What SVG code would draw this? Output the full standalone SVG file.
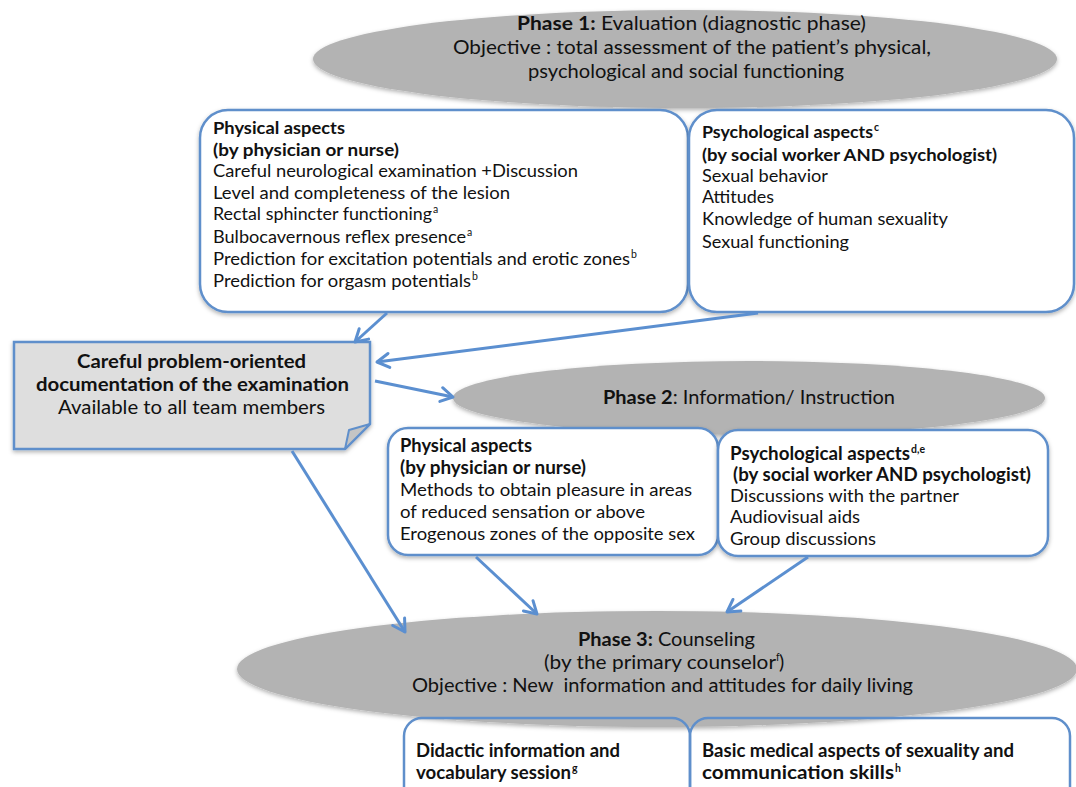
<svg xmlns="http://www.w3.org/2000/svg" width="1076" height="787" viewBox="0 0 1076 787">
  <style>
    .bg { fill: #ffffff; }
    .phase { fill: #b3b3b3; filter: url(#shadow); }
    .card { fill: #ffffff; stroke: #5f8fcb; stroke-width: 2.5; filter: url(#shadow); }
    .card-open { fill: none; stroke: #5f8fcb; stroke-width: 2.5; }
    .note { fill: #dedede; stroke: #5f8fcb; stroke-width: 2.5; filter: url(#shadow); }
    .fold { fill: #c4c4c4; stroke: #5f8fcb; stroke-width: 2; stroke-linejoin: round; }
    .link { fill: none; stroke: #5b8fd0; stroke-width: 3; marker-end: url(#vhead); }
    text { font-family: Lato, "Liberation Sans", sans-serif; fill: #111111; }
    .t16 { font-size: 17px; }
    .t18 { font-size: 18.5px; }
    .t17 { font-size: 18px; }
    .t19 { font-size: 19.5px; }
    .b { font-weight: bold; }
    .sup { font-size: 10.5px; }
  </style>
  <defs>
    <filter id="shadow" x="-10%" y="-20%" width="120%" height="150%">
      <feDropShadow dx="0" dy="2" stdDeviation="2" flood-color="#000000" flood-opacity="0.3"/>
    </filter>
    <marker id="vhead" markerUnits="userSpaceOnUse" markerWidth="18" markerHeight="18" viewBox="0 0 18 18" refX="15" refY="9" orient="auto">
      <path d="M3,2 L15,9 L3,16" fill="none" stroke="#5b8fd0" stroke-width="3" stroke-linecap="round" stroke-linejoin="round"/>
    </marker>
  </defs>

  <rect class="bg" x="0" y="0" width="1076" height="787"/>

  <!-- Phase 1 -->
  <g id="phase1">
    <ellipse class="phase" cx="685" cy="59" rx="372" ry="49"/>
    <text class="t18" x="517" y="30" textLength="349" lengthAdjust="spacingAndGlyphs"><tspan class="b">Phase 1:</tspan> Evaluation (diagnostic phase)</text>
    <text class="t18" x="453" y="54" textLength="478" lengthAdjust="spacingAndGlyphs">Objective : total assessment of the patient’s physical,</text>
    <text class="t18" x="528" y="78" textLength="316" lengthAdjust="spacingAndGlyphs">psychological and social functioning</text>
  </g>

  <g id="p1-physical">
    <rect class="card" x="200" y="110" width="488" height="202" rx="28"/>
    <text class="t16 b" x="213" y="134" textLength="132" lengthAdjust="spacingAndGlyphs">Physical aspects</text>
    <text class="t16 b" x="213" y="156" textLength="186" lengthAdjust="spacingAndGlyphs">(by physician or nurse)</text>
    <text class="t16" x="213" y="177" textLength="365" lengthAdjust="spacingAndGlyphs">Careful neurological examination +Discussion</text>
    <text class="t16" x="213" y="199" textLength="297" lengthAdjust="spacingAndGlyphs">Level and completeness of the lesion</text>
    <text class="t16" x="213" y="220" textLength="219" lengthAdjust="spacingAndGlyphs">Rectal sphincter functioning</text>
    <text class="sup" x="433" y="213">a</text>
    <text class="t16" x="213" y="243" textLength="253" lengthAdjust="spacingAndGlyphs">Bulbocavernous reflex presence</text>
    <text class="sup" x="467" y="236">a</text>
    <text class="t16" x="213" y="265" textLength="417" lengthAdjust="spacingAndGlyphs">Prediction for excitation potentials and erotic zones</text>
    <text class="sup" x="631" y="258">b</text>
    <text class="t16" x="213" y="287" textLength="258" lengthAdjust="spacingAndGlyphs">Prediction for orgasm potentials</text>
    <text class="sup" x="472" y="280">b</text>
  </g>

  <g id="p1-psychological">
    <rect class="card" x="689" y="110" width="385" height="202" rx="28"/>
    <text class="t16 b" x="702" y="138" textLength="171" lengthAdjust="spacingAndGlyphs">Psychological aspects</text>
    <text class="sup b" x="874" y="131">c</text>
    <text class="t16 b" x="702" y="161" textLength="295" lengthAdjust="spacingAndGlyphs">(by social worker AND psychologist)</text>
    <text class="t16" x="702" y="182" textLength="126" lengthAdjust="spacingAndGlyphs">Sexual behavior</text>
    <text class="t16" x="702" y="203" textLength="72" lengthAdjust="spacingAndGlyphs">Attitudes</text>
    <text class="t16" x="702" y="225" textLength="246" lengthAdjust="spacingAndGlyphs">Knowledge of human sexuality</text>
    <text class="t16" x="702" y="248" textLength="147" lengthAdjust="spacingAndGlyphs">Sexual functioning</text>
  </g>

  <!-- Documentation note with folded corner -->
  <g id="documentation">
    <path class="note" d="M14,342 H370 V424 L345,449 H14 Z"/>
    <path class="fold" d="M370,424 L349,430 L345,449 Z"/>
    <text class="t18 b" x="77" y="368" textLength="229" lengthAdjust="spacingAndGlyphs">Careful problem-oriented</text>
    <text class="t18 b" x="36" y="391" textLength="313" lengthAdjust="spacingAndGlyphs">documentation of the examination</text>
    <text class="t18" x="58" y="414" textLength="267" lengthAdjust="spacingAndGlyphs">Available to all team members</text>
  </g>

  <!-- Phase 2 -->
  <g id="phase2">
    <ellipse class="phase" cx="749" cy="398" rx="296" ry="37"/>
    <text class="t19" x="603" y="404" textLength="292" lengthAdjust="spacingAndGlyphs"><tspan class="b">Phase 2</tspan>: Information/ Instruction</text>
  </g>

  <g id="p2-physical">
    <rect class="card" x="388" y="428" width="330" height="127" rx="20"/>
    <text class="t17 b" x="400" y="452" textLength="132" lengthAdjust="spacingAndGlyphs">Physical aspects</text>
    <text class="t17 b" x="400" y="474" textLength="186" lengthAdjust="spacingAndGlyphs">(by physician or nurse)</text>
    <text class="t17" x="400" y="496" textLength="292" lengthAdjust="spacingAndGlyphs">Methods to obtain pleasure in areas</text>
    <text class="t17" x="400" y="518" textLength="245" lengthAdjust="spacingAndGlyphs">of reduced sensation or above</text>
    <text class="t17" x="400" y="540" textLength="295" lengthAdjust="spacingAndGlyphs">Erogenous zones of the opposite sex</text>
  </g>

  <g id="p2-psychological">
    <rect class="card" x="718" y="430" width="330" height="126" rx="20"/>
    <text class="t17 b" x="730" y="460" textLength="180" lengthAdjust="spacingAndGlyphs">Psychological aspects</text>
    <text class="sup b" x="911" y="453">d,e</text>
    <text class="t17 b" x="733" y="481" textLength="298" lengthAdjust="spacingAndGlyphs">(by social worker AND psychologist)</text>
    <text class="t17" x="730" y="502" textLength="229" lengthAdjust="spacingAndGlyphs">Discussions with the partner</text>
    <text class="t17" x="730" y="523" textLength="130" lengthAdjust="spacingAndGlyphs">Audiovisual aids</text>
    <text class="t17" x="730" y="545" textLength="146" lengthAdjust="spacingAndGlyphs">Group discussions</text>
  </g>

  <!-- Phase 3 -->
  <g id="phase3">
    <ellipse class="phase" cx="657" cy="669" rx="420" ry="58"/>
    <text class="t19" x="578" y="646" textLength="177" lengthAdjust="spacingAndGlyphs"><tspan class="b">Phase 3:</tspan> Counseling</text>
    <text class="t19" x="544" y="669" textLength="232" lengthAdjust="spacingAndGlyphs">(by the primary counselor</text>
    <text class="sup" x="776" y="661">f</text>
    <text class="t19" x="779" y="669">)</text>
    <text class="t19" x="412" y="692" textLength="501" lengthAdjust="spacingAndGlyphs" xml:space="preserve">Objective : New  information and attitudes for daily living</text>
  </g>

  <g id="p3-didactic">
    <rect class="card-open" x="404" y="718" width="286" height="90" rx="18"/>
    <text class="t17 b" x="416" y="757" textLength="204" lengthAdjust="spacingAndGlyphs">Didactic information and</text>
    <text class="t17 b" x="416" y="779" textLength="155" lengthAdjust="spacingAndGlyphs">vocabulary session</text>
    <text class="sup b" x="572" y="772">g</text>
  </g>

  <g id="p3-medical">
    <rect class="card-open" x="690" y="718" width="380" height="90" rx="18"/>
    <text class="t17 b" x="702" y="757" textLength="312" lengthAdjust="spacingAndGlyphs">Basic medical aspects of sexuality and</text>
    <text class="t17 b" x="702" y="779" textLength="192" lengthAdjust="spacingAndGlyphs">communication skills</text>
    <text class="sup b" x="895" y="772">h</text>
  </g>

  <!-- Connectors -->
  <g id="connectors">
    <line class="link" x1="387" y1="313" x2="355" y2="342"/>
    <line class="link" x1="758" y1="313" x2="377" y2="362"/>
    <line class="link" x1="375" y1="381" x2="453" y2="397"/>
    <line class="link" x1="292" y1="451" x2="405" y2="632"/>
    <line class="link" x1="476" y1="557" x2="537" y2="614"/>
    <line class="link" x1="808" y1="557" x2="727" y2="612"/>
  </g>
</svg>
